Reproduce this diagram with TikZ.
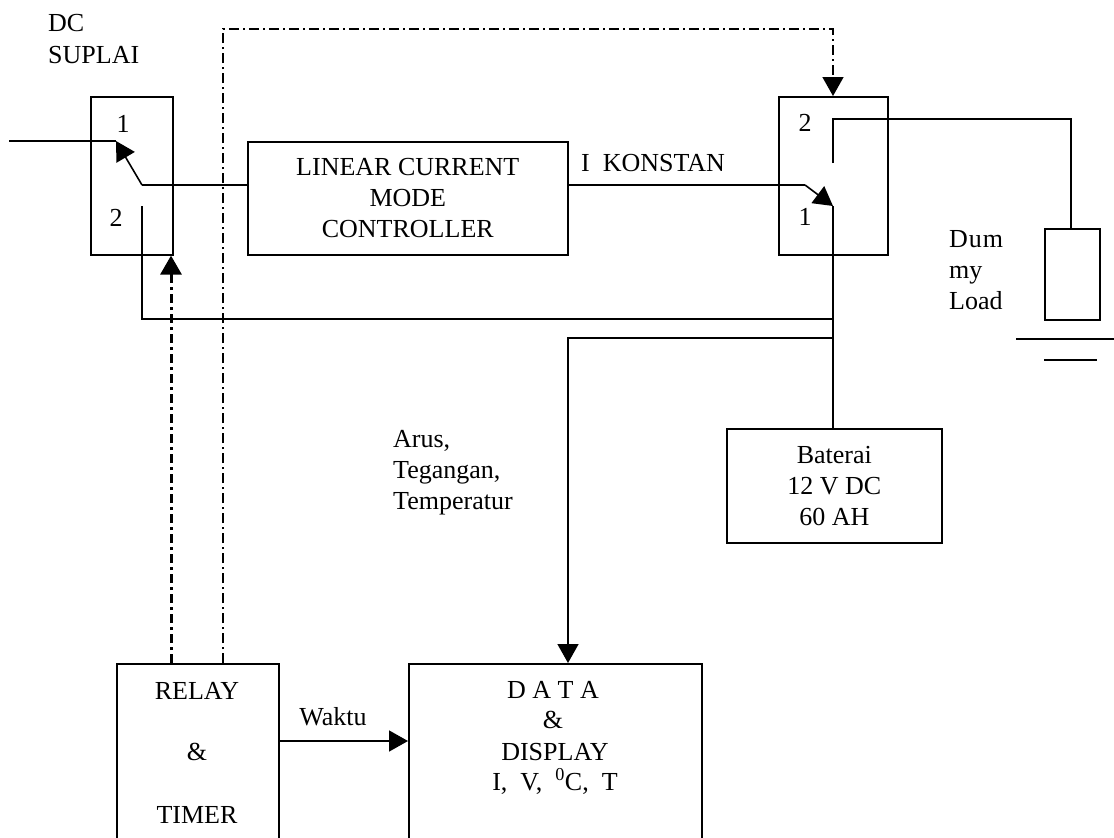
\documentclass[tikz,border=0pt]{standalone}
\usepackage{fontspec}
\setmainfont{Liberation Serif}
\usetikzlibrary{arrows.meta,calc}
\begin{document}
\begin{tikzpicture}[x=1pt,y=-1pt,
  every node/.style={font=\fontsize{26}{31}\selectfont},
  wire/.style={line width=1.6pt},
  box/.style={draw,line width=1.6pt,rectangle,inner sep=0pt,anchor=north west,align=center},
  arr/.style={-{Triangle[length=19pt,width=21pt]}},
  thickdd/.style={line width=3pt,dash pattern=on 9pt off 4pt on 3pt off 4pt},
  thindd/.style={line width=1.5pt,dash pattern=on 10pt off 4pt on 2pt off 4pt},
  lbl/.style={inner sep=0pt,anchor=base west},
  clbl/.style={inner sep=0pt,anchor=base}]
\useasboundingbox (0,0) rectangle (1114,838);
% boxes
\node[box,minimum width=82pt,minimum height=158pt] (sw1) at (90,96) {};
\node[box,minimum width=320pt,minimum height=113pt] (lcmc) at (247,141) {LINEAR CURRENT\\MODE\\CONTROLLER};
\node[box,minimum width=109pt,minimum height=158pt] (sw2) at (778,96) {};
\node[box,minimum width=55pt,minimum height=91pt] (dummy) at (1044,228) {};
\node[box,minimum width=215pt,minimum height=114pt] (bat) at (726,428) {Baterai\\12 V DC\\60 AH};
\node[box,minimum width=162pt,minimum height=220pt] (relay) at (116,663) {};
\node[box,minimum width=293pt,minimum height=220pt] (data) at (408,663) {};
% texts
\node[lbl] (dc1) at (48,31) {DC};
\node[lbl] (dc2) at (48,63) {SUPLAI};
\node[clbl] (s1a) at (123,132) {1};
\node[clbl] (s1b) at (116,226) {2};
\node[clbl] (s2a) at (805,131) {2};
\node[clbl] (s2b) at (805,225) {1};
\node[lbl] (ik) at (581,171) {I\ \ KONSTAN};
\node[lbl] (dm1) at (949,247) {D\kern1pt u\kern1pt m};
\node[lbl] (dm2) at (949,278) {my};
\node[lbl] (dm3) at (949,309) {Load};
\node[lbl] (ar1) at (393,447) {Arus,};
\node[lbl] (ar2) at (393,478) {Tegangan,};
\node[lbl] (ar3) at (393,509) {Temperatur};
\node[clbl] (rl1) at (197,699) {RELAY};
\node[clbl] (rl2) at (197,760) {\&};
\node[clbl] (rl3) at (197,823) {TIMER};
\node[clbl] (wk) at (333,725) {Waktu};
\node[clbl] (dt1) at (553,698) {D A T A};
\node[clbl] (dt2) at (553,728) {\&};
\node[clbl] (dt3) at (555,760) {DISPLAY};
\node[clbl] (dt4) at (555,790) {I,\ \ V,\ \ \textsuperscript{0}C,\ \ T};
% coordinates
\coordinate (in) at (9,141);
\coordinate (c1a) at (116,141);
\coordinate (p1) at (142,185);
\coordinate (c2a) at (142,206);
\coordinate (q1) at (805,185);
\coordinate (c1b) at (833,206);
\coordinate (c2b) at (833,163);
\coordinate (k2) at (833,119);
\coordinate (k3) at (1071,119);
\coordinate (j1) at (833,319);
\coordinate (j2) at (833,338);
\coordinate (d1) at (568,338);
\coordinate (r1) at (171,663);
\coordinate (r2) at (223,663);
\coordinate (t1) at (833,29);
\coordinate (w1) at (278,741);
\coordinate (g1a) at (1016,339);
\coordinate (g1b) at (1114,339);
\coordinate (g2a) at (1044,360);
\coordinate (g2b) at (1097,360);
% wires
\draw[wire] (in) -- (c1a);
\draw[wire,arr] (p1) -- (c1a);
\draw[wire] (p1) -- (p1 -| lcmc.west);
\draw[wire] (c2a) |- (j1);
\draw[wire] (lcmc.east |- q1) -- (q1);
\draw[wire,arr] (q1) -- (c1b);
\draw[wire] (c1b) -- (c1b |- bat.north);
\draw[wire] (c2b) -- (k2) -- (k3) -- (k3 |- dummy.north);
\draw[wire,arr] (j2) -- (d1) -- (d1 |- data.north);
\draw[wire,arr] (w1) -- (w1 -| data.west);
\draw[wire] (g1a) -- (g1b);
\draw[wire] (g2a) -- (g2b);
\draw[thickdd,arr] (r1) -- (r1 |- sw1.south);
\draw[thindd,arr] (r2) |- (t1) -- (t1 |- sw2.north);
\end{tikzpicture}
\end{document}
